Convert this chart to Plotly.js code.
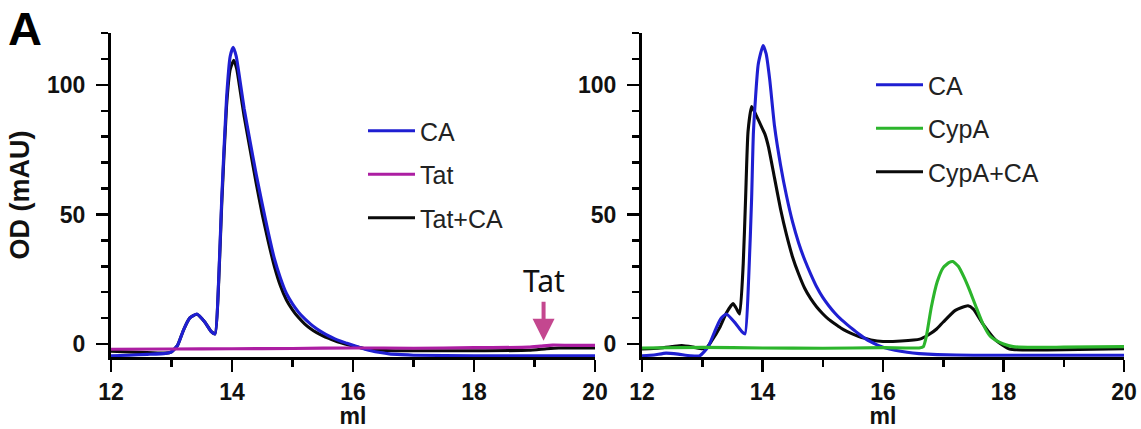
<!DOCTYPE html>
<html>
<head>
<meta charset="utf-8">
<script src="https://cdn.plot.ly/plotly-3.0.1.min.js"></script>
<style>html,body{margin:0;padding:0;background:#fff;}#chart{width:1141px;height:429px;}</style>
</head>
<body>
<div id="chart"></div>
<script>
// ---- Left panel: CA, Tat, Tat+CA ----
const leftCA_x = [12.0,12.3,12.6,12.9,13.0,13.1,13.2,13.3,13.42,13.55,13.65,13.72,13.78,13.83,13.91,13.97,14.02,14.07,14.13,14.2,14.3,14.4,14.5,14.6,14.7,14.8,14.9,15.0,15.1,15.2,15.3,15.4,15.5,15.6,15.7,15.8,15.9,16.0,16.15,16.3,16.45,16.6,16.8,17.0,18.0,19.0,20.0];
const leftCA_y = [-4.5,-4.3,-4.0,-3.6,-3.0,-0.5,5.5,10.0,11.6,8.5,5.0,3.9,25,56,95,111,114.5,111,102,91,78,65.5,54,43,33,25.5,19.5,15.5,12.3,9.8,7.7,5.9,4.4,3.1,2.0,1.1,0.3,-0.5,-1.6,-2.6,-3.3,-3.8,-4.1,-4.3,-4.5,-4.5,-4.5];

const leftTat_x = [12.0,13.0,14.0,15.0,16.0,17.0,18.0,18.9,19.1,19.3,19.6,20.0];
const leftTat_y = [-2.0,-1.9,-1.8,-1.7,-1.5,-1.6,-1.4,-1.2,-0.8,-0.4,-0.5,-0.5];

const leftTatCA_x = [12.0,12.5,12.9,13.0,13.1,13.2,13.3,13.42,13.55,13.65,13.72,13.78,13.83,13.91,13.97,14.03,14.08,14.14,14.2,14.3,14.4,14.5,14.6,14.7,14.8,14.9,15.0,15.1,15.2,15.3,15.4,15.5,15.6,15.7,15.8,15.9,16.0,16.2,16.4,16.7,17.0,18.0,18.9,19.2,19.4,20.0];
const leftTatCA_y = [-2.8,-3.2,-3.5,-3.0,-0.5,5.5,10.0,11.5,8.5,5.0,3.9,24,54,92,106,109.5,106,97,88,75,62,50,39.5,30,22.5,17,13.2,10.2,7.8,5.9,4.4,3.2,2.2,1.3,0.5,-0.2,-0.8,-1.8,-2.3,-2.6,-2.6,-2.6,-2.4,-1.8,-1.5,-1.5];

// ---- Right panel: CA, CypA, CypA+CA ----
const rightCA_x = [12.0,12.2,12.4,12.6,12.8,12.96,13.1,13.21,13.3,13.4,13.55,13.65,13.71,13.77,13.82,13.85,13.93,14.01,14.06,14.12,14.2,14.3,14.4,14.5,14.6,14.7,14.8,14.9,15.0,15.1,15.2,15.3,15.4,15.5,15.6,15.7,15.8,15.9,16.0,16.2,16.4,16.6,16.9,17.5,20.0];
const rightCA_y = [-4.5,-4.2,-3.5,-3.9,-4.5,-4.5,-1.0,5.0,9.5,11.6,8.0,5.0,3.9,25,56.6,82,108,115.2,112,102,84,69,57,47,39,32.5,27,22,18,14.8,12,9.6,7.6,5.7,3.9,2.2,0.8,-0.3,-1.2,-2.4,-3.2,-3.7,-4.1,-4.3,-4.3];

const rightCypA_x = [12.0,13.0,14.0,15.0,16.0,16.6,16.67,16.72,16.8,16.9,17.0,17.1,17.16,17.25,17.35,17.44,17.55,17.66,17.78,17.88,18.0,18.16,18.5,19.0,20.0];
const rightCypA_y = [-1.5,-1.3,-1.5,-1.6,-1.4,-1.5,-1.0,3.0,14.0,24.0,29.5,31.5,31.8,30.0,25.5,20.6,14.0,7.7,3.0,1.3,0.0,-1.0,-1.3,-1.2,-1.0];

const rightCypACA_x = [12.0,12.3,12.5,12.66,12.85,13.0,13.07,13.15,13.29,13.4,13.51,13.56,13.62,13.68,13.72,13.76,13.82,13.9,14.0,14.04,14.1,14.2,14.3,14.4,14.5,14.6,14.7,14.8,14.9,15.0,15.1,15.2,15.3,15.4,15.5,15.6,15.7,15.8,15.9,16.0,16.3,16.61,16.75,16.89,17.0,17.2,17.41,17.5,17.66,17.88,18.1,18.5,19.0,20.0];
const rightCypACA_y = [-1.9,-1.5,-1.0,-0.6,-1.2,-1.8,-1.5,1.0,6.4,12.0,15.6,14.0,11.6,30.9,56.6,82,91.6,88,83,81,76,64,52,42,33.5,27,21.5,17.5,14.3,11.7,9.5,7.8,6.2,4.9,3.8,2.9,2.2,1.6,1.2,1.0,1.2,1.9,3.5,5.8,8.5,13.0,14.8,13.5,7.7,1.3,-1.9,-2.3,-2.2,-1.8];

// tick values
const xTicks = [12,14,16,18,20];
const yTicks = [0,50,100];

const BLUE = '#1f1fd2', MAG = '#ac1ea2', GREEN = '#2cb52c', BLACK = '#0a0a0a', PINK = '#c4478f';
const LW = 3.1;
const FONT = 'Liberation Sans, Arial, sans-serif';

function tr(x, y, name, color, xa, ya, leg, rank) {
  return {x: x, y: y, name: name, type: 'scatter', mode: 'lines',
    line: {color: color, width: LW, shape: 'spline', smoothing: 0.5},
    xaxis: xa, yaxis: ya, legend: leg, legendrank: rank, legendgroup: leg + name,
    hoverinfo: 'skip'};
}

const data = [
  tr(leftTatCA_x, leftTatCA_y, 'Tat+CA', BLACK, 'x', 'y', 'legend', 3),
  tr(leftCA_x, leftCA_y, 'CA', BLUE, 'x', 'y', 'legend', 1),
  tr(leftTat_x, leftTat_y, 'Tat', MAG, 'x', 'y', 'legend', 2),
  tr(rightCypACA_x, rightCypACA_y, 'CypA+CA', BLACK, 'x2', 'y2', 'legend2', 3),
  tr(rightCA_x, rightCA_y, 'CA', BLUE, 'x2', 'y2', 'legend2', 1),
  tr(rightCypA_x, rightCypA_y, 'CypA', GREEN, 'x2', 'y2', 'legend2', 2)
];

const W = 1141, H = 429;
function px(v) { return v / W; }
function py(v) { return (H - v) / H; }

function xaxis(domain, anchor) {
  return {domain: domain, anchor: anchor, range: [12, 20], tickmode: 'array', tickvals: xTicks,
    ticks: 'outside', ticklen: 12, tickwidth: 2.5, tickcolor: '#000', ticklabelstandoff: 0,
    showline: true, linecolor: '#000', linewidth: 3, showgrid: false, zeroline: false,
    tickfont: {family: FONT, size: 23, color: '#111', weight: 'bold'},
    minor: {dtick: 1, tick0: 12, ticks: 'outside', ticklen: 7, tickwidth: 2.5, tickcolor: '#000', showgrid: false},
    title: {text: '<b>ml</b>', font: {family: FONT, size: 23, color: '#111'}, standoff: 4},
    fixedrange: true};
}
function yaxis(anchor, showTitle) {
  const a = {domain: [py(357), py(33)], anchor: anchor, range: [-5, 120], tickmode: 'array', tickvals: yTicks,
    ticks: 'outside', ticklen: 12, tickwidth: 2.5, tickcolor: '#000', ticklabelstandoff: 6,
    showline: true, linecolor: '#000', linewidth: 3, showgrid: false, zeroline: false,
    tickfont: {family: FONT, size: 23, color: '#111', weight: 'bold'},
    minor: {dtick: 10, tick0: 0, ticks: 'outside', ticklen: 7, tickwidth: 2.5, tickcolor: '#000', showgrid: false},
    fixedrange: true};
  if (showTitle) a.title = {text: '<b>OD (mAU)</b>', font: {family: FONT, size: 27, color: '#111'}, standoff: 10};
  return a;
}

const legendBase = {bgcolor: 'rgba(0,0,0,0)', borderwidth: 0, font: {family: FONT, size: 25, color: '#222'},
  tracegroupgap: 8, traceorder: 'grouped', xanchor: 'left', yanchor: 'top', itemwidth: 47};

const layout = {
  width: W, height: H,
  margin: {l: 0, r: 0, t: 0, b: 0},
  paper_bgcolor: '#fff', plot_bgcolor: '#fff',
  showlegend: true,
  xaxis: xaxis([px(111), px(595)], 'y'),
  yaxis: yaxis('x', true),
  xaxis2: xaxis([px(642), px(1124)], 'y2'),
  yaxis2: yaxis('x2', false),
  legend: Object.assign({}, legendBase, {x: px(363), y: py(108)}),
  legend2: Object.assign({}, legendBase, {x: px(871), y: py(62)}),
  annotations: [
    {text: '<b>A</b>', xref: 'paper', yref: 'paper', x: px(6), y: 1, xanchor: 'left', yanchor: 'top',
     showarrow: false, font: {family: FONT, size: 47, color: '#000'}},
    {text: 'Tat', xref: 'x', yref: 'y', x: 19.15, y: 1.3, ax: 0, ay: -60, showarrow: true,
     arrowhead: 2, arrowsize: 1.1, arrowwidth: 4, arrowcolor: PINK, standoff: 0, startstandoff: 0, borderpad: 0,
     font: {family: 'Noto Sans, Open Sans, sans-serif', size: 30, color: '#111'}}
  ]
};

Plotly.newPlot('chart', data, layout, {displayModeBar: false, staticPlot: true});
</script>
</body>
</html>
